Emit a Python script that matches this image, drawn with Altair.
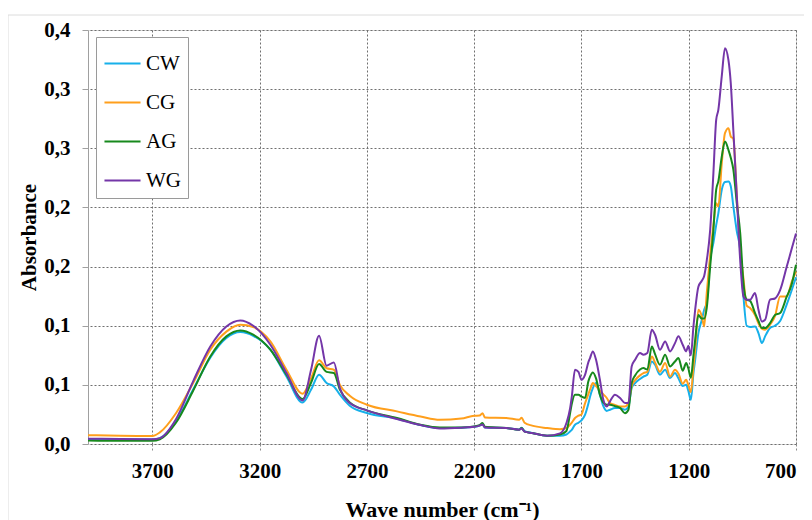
import altair as alt
import pandas as pd

wavenumber = [4000, 3850, 3700, 3665, 3590, 3510, 3430, 3355, 3290, 3230,
              3150, 3075, 3000, 2960, 2923, 2888, 2854, 2826, 2780, 2700,
              2560, 2450, 2360, 2260, 2200, 2175, 2161, 2150, 2050, 1990,
              1979, 1965, 1930, 1860, 1800, 1770, 1753, 1745, 1730, 1714,
              1700, 1683, 1668, 1660, 1647, 1632, 1614, 1598, 1582, 1567,
              1544, 1520, 1497, 1481, 1466, 1450, 1427, 1411, 1393, 1372,
              1357, 1334, 1310, 1287, 1264, 1248, 1228, 1212, 1202, 1190,
              1178, 1170, 1155, 1139, 1128, 1116, 1100, 1085, 1072, 1062,
              1046, 1031, 1015, 1004, 992, 976, 960, 945, 930, 914,
              891, 875, 859, 844, 821, 798, 774, 743, 720, 700]

cw = [0.0040, 0.0038, 0.0038, 0.0050, 0.0190, 0.0460, 0.0730, 0.0896, 0.0946, 0.0915,
      0.0797, 0.0570, 0.0350, 0.0460, 0.0586, 0.0515, 0.0487, 0.0417, 0.0324, 0.0262,
      0.0214, 0.0160, 0.0135, 0.0138, 0.0145, 0.0155, 0.0168, 0.0140, 0.0135, 0.0121,
      0.0138, 0.0108, 0.0093, 0.0070, 0.0070, 0.0080, 0.0106, 0.0120, 0.0163, 0.0180,
      0.0200, 0.0248, 0.0340, 0.0400, 0.0473, 0.0515, 0.0417, 0.0320, 0.0280, 0.0290,
      0.0304, 0.0304, 0.0290, 0.0318, 0.0473, 0.0515, 0.0550, 0.0570, 0.0586, 0.0698,
      0.0670, 0.0586, 0.0628, 0.0557, 0.0600, 0.0555, 0.0490, 0.0500, 0.0450, 0.0374,
      0.0600, 0.0712, 0.0938, 0.1050, 0.1135, 0.1200, 0.1557, 0.1700, 0.1850, 0.1950,
      0.2150, 0.2215, 0.2220, 0.2180, 0.2008, 0.1800, 0.1640, 0.1250, 0.1000, 0.0990,
      0.0994, 0.0938, 0.0853, 0.0910, 0.0980, 0.1000, 0.1040, 0.1180, 0.1300, 0.1410]

cg = [0.0075, 0.0070, 0.0068, 0.0098, 0.0260, 0.0515, 0.0797, 0.0950, 0.1008, 0.0989,
      0.0867, 0.0628, 0.0425, 0.0557, 0.0707, 0.0640, 0.0628, 0.0500, 0.0408, 0.0332,
      0.0276, 0.0233, 0.0205, 0.0215, 0.0239, 0.0240, 0.0260, 0.0225, 0.0220, 0.0205,
      0.0222, 0.0180, 0.0155, 0.0135, 0.0125, 0.0135, 0.0163, 0.0180, 0.0220, 0.0240,
      0.0250, 0.0346, 0.0420, 0.0459, 0.0515, 0.0490, 0.0450, 0.0420, 0.0389, 0.0346,
      0.0330, 0.0318, 0.0318, 0.0346, 0.0487, 0.0540, 0.0580, 0.0600, 0.0610, 0.0740,
      0.0690, 0.0610, 0.0684, 0.0570, 0.0628, 0.0595, 0.0510, 0.0543, 0.0500, 0.0440,
      0.0650, 0.0797, 0.1135, 0.1080, 0.0994, 0.1276, 0.1600, 0.1850, 0.2036, 0.2008,
      0.2374, 0.2628, 0.2670, 0.2600, 0.2580, 0.2100, 0.1650, 0.1400, 0.1170, 0.1150,
      0.1090, 0.1020, 0.0975, 0.0966, 0.1008, 0.1080, 0.1247, 0.1247, 0.1370, 0.1458]

ag = [0.0030, 0.0027, 0.0027, 0.0040, 0.0180, 0.0450, 0.0740, 0.0910, 0.0960, 0.0924,
      0.0797, 0.0586, 0.0380, 0.0520, 0.0676, 0.0610, 0.0600, 0.0460, 0.0352, 0.0284,
      0.0220, 0.0163, 0.0140, 0.0140, 0.0149, 0.0160, 0.0177, 0.0145, 0.0135, 0.0121,
      0.0135, 0.0105, 0.0093, 0.0070, 0.0080, 0.0110, 0.0260, 0.0340, 0.0417, 0.0417,
      0.0400, 0.0389, 0.0529, 0.0570, 0.0605, 0.0555, 0.0417, 0.0350, 0.0332, 0.0332,
      0.0320, 0.0305, 0.0260, 0.0290, 0.0515, 0.0580, 0.0630, 0.0642, 0.0630, 0.0825,
      0.0760, 0.0670, 0.0755, 0.0656, 0.0698, 0.0727, 0.0620, 0.0684, 0.0640, 0.0560,
      0.0750, 0.0880, 0.1090, 0.1060, 0.1060, 0.1150, 0.1500, 0.1810, 0.2150, 0.2220,
      0.2430, 0.2557, 0.2487, 0.2420, 0.2320, 0.2036, 0.1780, 0.1360, 0.1220, 0.1210,
      0.1107, 0.1040, 0.0980, 0.0980, 0.1022, 0.1090, 0.1107, 0.1247, 0.1350, 0.1515]

wg = [0.0045, 0.0042, 0.0040, 0.0050, 0.0210, 0.0530, 0.0825, 0.0994, 0.1045, 0.1000,
      0.0839, 0.0600, 0.0368, 0.0630, 0.0915, 0.0662, 0.0690, 0.0473, 0.0346, 0.0284,
      0.0211, 0.0160, 0.0132, 0.0138, 0.0145, 0.0155, 0.0165, 0.0140, 0.0135, 0.0121,
      0.0130, 0.0105, 0.0093, 0.0070, 0.0090, 0.0177, 0.0300, 0.0400, 0.0628, 0.0610,
      0.0543, 0.0586, 0.0690, 0.0727, 0.0783, 0.0712, 0.0543, 0.0374, 0.0318, 0.0360,
      0.0417, 0.0389, 0.0346, 0.0346, 0.0656, 0.0712, 0.0769, 0.0755, 0.0769, 0.0966,
      0.0924, 0.0797, 0.0867, 0.0783, 0.0853, 0.0910, 0.0839, 0.0783, 0.0830, 0.0750,
      0.0994, 0.1135, 0.1330, 0.1380, 0.1420, 0.1550, 0.1810, 0.2290, 0.2740, 0.2825,
      0.3110, 0.3346, 0.3247, 0.3050, 0.2650, 0.2100, 0.1550, 0.1247, 0.1220, 0.1220,
      0.1276, 0.1135, 0.1036, 0.1050, 0.1220, 0.1230, 0.1300, 0.1500, 0.1650, 0.1780]

series_names = ["CW", "CG", "AG", "WG"]
series_colors = ["#17B0EA", "#FF9F1C", "#17891C", "#7436A8"]
x_ticks = [3700, 3200, 2700, 2200, 1700, 1200, 700]
y_ticks = [0, 0.05, 0.10, 0.15, 0.20, 0.25, 0.30, 0.35]
y_tick_labels = ["0,0", "0,1", "0,1", "0,2", "0,2", "0,3", "0,3", "0,4"]

for s in (cw, cg, ag, wg):
    assert len(s) == len(wavenumber)

rows = []
for name, vals in zip(series_names, [cw, cg, ag, wg]):
    for w, v in zip(wavenumber, vals):
        rows.append({"wn": w, "absorb": v, "series": name})
df = pd.DataFrame(rows)

label_expr = "[" + ",".join(f"'{t}'" for t in y_tick_labels) + "][round(datum.value / 0.05)]"

FONT = "Liberation Serif"

lines = alt.Chart(df).mark_line(strokeWidth=2, interpolate="monotone").encode(
    x=alt.X("wn:Q",
            scale=alt.Scale(domain=[700, 4000], reverse=True, nice=False, zero=False),
            axis=alt.Axis(values=x_ticks, format="d", title="Wave number (cm⁻¹)",
                          grid=True, gridDash=[2, 2], gridColor="#6f6f6f",
                          domain=False, ticks=True, tickSize=6, tickColor="#8a8a8a",
                          tickDash=[2, 2], labelFont=FONT, labelFontSize=21,
                          labelFontWeight="bold", labelColor="#000", labelPadding=10,
                          titleFont=FONT, titleFontSize=22, titleFontWeight="bold",
                          titleColor="#000", titlePadding=18)),
    y=alt.Y("absorb:Q",
            scale=alt.Scale(domain=[0, 0.35], nice=False),
            axis=alt.Axis(values=y_ticks, labelExpr=label_expr, title="Absorbance",
                          grid=True, gridDash=[2, 2], gridColor="#6f6f6f",
                          domain=True, domainColor="#a0a0a0", ticks=True, tickSize=6,
                          tickColor="#a0a0a0", labelFont=FONT, labelFontSize=21,
                          labelFontWeight="bold", labelColor="#000", labelPadding=12,
                          titleFont=FONT, titleFontSize=21, titleFontWeight="bold",
                          titleColor="#000", titlePadding=4)),
    color=alt.Color("series:N",
                    scale=alt.Scale(domain=series_names, range=series_colors),
                    legend=alt.Legend(title=None, orient="none", legendX=8, legendY=7,
                                      symbolType="stroke", symbolSize=1300,
                                      symbolStrokeWidth=2, labelFont=FONT,
                                      labelFontSize=21, labelColor="#000",
                                      labelOffset=4, rowPadding=9, padding=7,
                                      strokeColor="#9a9a9a", fillColor="white")),
)

frame = alt.Chart(pd.DataFrame({"a": [0]})).mark_rect(
    fill=None, stroke="#dcdcdc", strokeWidth=1
).encode(x=alt.value(-80), x2=alt.value(900), y=alt.value(-15), y2=alt.value(700))

chart = alt.layer(frame, lines).properties(
    width=708, height=414,
    autosize=alt.AutoSizeParams(type="none"),
    padding={"left": 80, "top": 22, "right": 8, "bottom": 76},
).configure_view(stroke=None).configure(background="white")

chart.save("out.html", embed_options={"renderer": "svg", "actions": False})
